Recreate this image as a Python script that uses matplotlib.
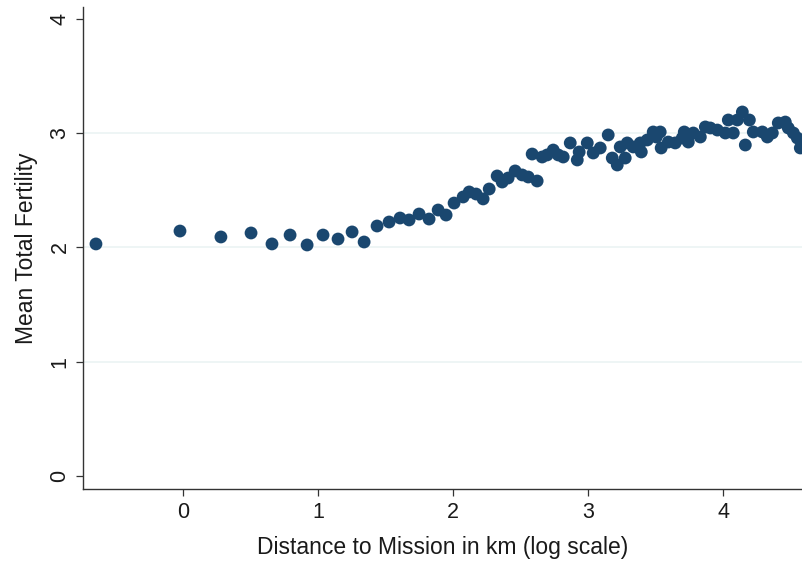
import matplotlib
matplotlib.use("Agg")
import matplotlib.pyplot as plt

log_distance = [
    -0.644, -0.022, 0.281, 0.504, 0.659, 0.793, 0.919, 1.037, 1.148, 1.252,
    1.341, 1.437, 1.526, 1.607, 1.674, 1.748, 1.822, 1.889, 1.948, 2.007,
    2.074, 2.119, 2.170, 2.222, 2.267, 2.326, 2.363, 2.407, 2.459, 2.511,
    2.556, 2.622, 2.585, 2.659, 2.696, 2.741, 2.778, 2.815, 2.867, 2.919,
    2.933, 2.993, 3.037, 3.089, 3.148, 3.178, 3.215, 3.237, 3.289, 3.274,
    3.333, 3.385, 3.393, 3.437, 3.481, 3.504, 3.533, 3.540, 3.593, 3.644,
    3.696, 3.741, 3.711, 3.778, 3.830, 3.867, 3.904, 3.956, 4.015, 4.037,
    4.074, 4.104, 4.141, 4.193, 4.163, 4.222, 4.289, 4.326, 4.363, 4.407,
    4.459, 4.481, 4.519, 4.548, 4.570,
]
mean_fertility = [
    2.031, 2.144, 2.092, 2.127, 2.031, 2.109, 2.022, 2.109, 2.074, 2.136,
    2.048, 2.188, 2.223, 2.258, 2.241, 2.293, 2.249, 2.328, 2.284, 2.389,
    2.442, 2.486, 2.468, 2.425, 2.512, 2.626, 2.573, 2.608, 2.670, 2.635,
    2.617, 2.582, 2.818, 2.792, 2.810, 2.853, 2.810, 2.792, 2.915, 2.766,
    2.836, 2.915, 2.827, 2.871, 2.985, 2.783, 2.722, 2.880, 2.915, 2.783,
    2.880, 2.915, 2.836, 2.941, 3.011, 2.967, 3.011, 2.871, 2.923, 2.915,
    2.958, 2.923, 3.011, 3.002, 2.967, 3.055, 3.046, 3.028, 3.002, 3.116,
    3.002, 3.116, 3.186, 3.116, 2.897, 3.011, 3.011, 2.967, 3.002, 3.090,
    3.098, 3.046, 3.002, 2.958, 2.871,
]
x_ticks = [0, 1, 2, 3, 4]
y_ticks = [0, 1, 2, 3, 4]
grid_levels = [1, 2, 3]

plt.rcParams['font.family'] = ['Liberation Sans', 'DejaVu Sans']

fig = plt.figure(figsize=(8.03, 5.65), dpi=100)
ax = fig.add_axes([83/803, 1 - 489/565, 1 - 83/803, (489 - 7)/565])

for g in grid_levels:
    ax.axhline(g, color='#eaf2f3', lw=1.1, zorder=0)

ax.scatter(log_distance, mean_fertility, s=85, color='#1a476f', edgecolors='none', zorder=3)

ax.set_xlim(-0.74, 4.59)
ax.set_ylim(-0.114, 4.105)
ax.set_xticks(x_ticks)
ax.set_yticks(y_ticks)
ax.set_xticklabels([str(v) for v in x_ticks], fontsize=15.5)
ax.set_yticklabels([str(v) for v in y_ticks], fontsize=15.5, rotation=90, va='center')
ax.tick_params(axis='both', length=5, width=0.9, color='#333333', labelcolor='#1a1a1a', pad=4)

for side in ['top', 'right']:
    ax.spines[side].set_visible(False)
for side in ['left', 'bottom']:
    ax.spines[side].set_color('#333333')
    ax.spines[side].set_linewidth(1.0)

ax.set_xlabel('Distance to Mission in km (log scale)', fontsize=16.5, color='#1a1a1a', labelpad=10)
ax.set_ylabel('Mean Total Fertility', fontsize=16.5, color='#1a1a1a', labelpad=8)

fig.savefig('out.png', dpi=100, facecolor='white')
